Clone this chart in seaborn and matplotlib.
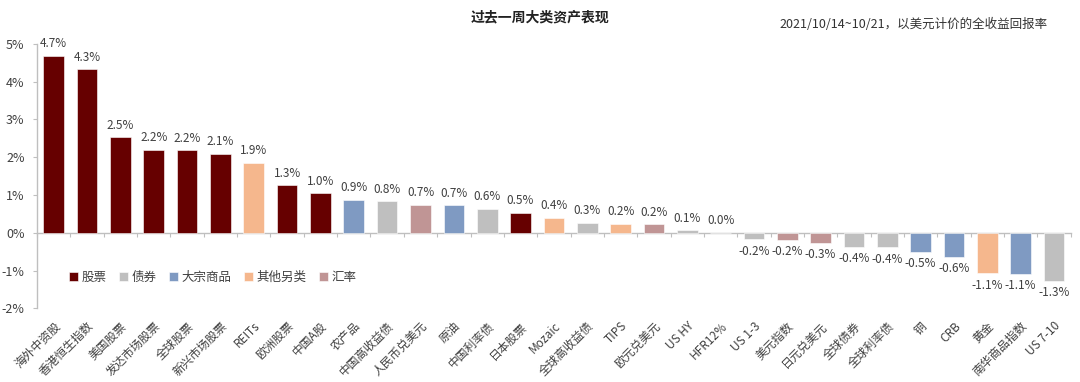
import numpy as np
import pandas as pd
import matplotlib
matplotlib.use('Agg')
import matplotlib.pyplot as plt
import seaborn as sns

# asset names, weekly return (%), asset class
assets = ['海外中资股', '香港恒生指数', '美国股票', '发达市场股票', '全球股票', '新兴市场股票',
          'REITs', '欧洲股票', '中国A股', '农产品', '中国高收益债', '人民币兑美元', '原油',
          '中国利率债', '日本股票', 'Mozaic', '全球高收益债', 'TIPS', '欧元兑美元', 'US HY',
          'HFR12%', 'US 1-3', '美元指数', '日元兑美元', '全球债券', '全球利率债', '铜', 'CRB',
          '黄金', '南华商品指数', 'US 7-10']
returns = [4.68, 4.32, 2.53, 2.20, 2.18, 2.09, 1.85, 1.26, 1.04, 0.87, 0.83, 0.74, 0.73,
           0.63, 0.52, 0.39, 0.26, 0.24, 0.22, 0.07, 0.0, -0.17, -0.19, -0.27, -0.37, -0.38,
           -0.50, -0.63, -1.07, -1.08, -1.27]
classes = ['股票', '股票', '股票', '股票', '股票', '股票', '其他另类', '股票', '股票', '大宗商品',
           '债券', '汇率', '大宗商品', '债券', '股票', '其他另类', '债券', '其他另类', '汇率', '债券',
           '其他另类', '债券', '汇率', '汇率', '债券', '债券', '大宗商品', '大宗商品', '其他另类',
           '大宗商品', '债券']
class_order = ['股票', '债券', '大宗商品', '其他另类', '汇率']
class_colors = ['#660000', '#BFBFBF', '#7F9AC2', '#F5B78D', '#C09595']

df = pd.DataFrame({'asset': assets, 'ret': returns, 'cls': classes})

sns.set_style('white')
plt.rcParams['font.family'] = ['Noto Sans CJK SC', 'DejaVu Sans']
plt.rcParams['axes.unicode_minus'] = False

fig = plt.figure(figsize=(10.8, 3.82), dpi=100)
ax = fig.add_axes([0.0343, 0.1929, 0.9571, 0.6927])

sns.barplot(data=df, x='asset', y='ret', hue='cls', hue_order=class_order,
            palette=dict(zip(class_order, class_colors)), dodge=False, width=0.62,
            saturation=1, edgecolor='white', linewidth=0.4, ax=ax)

ax.set_ylim(-2, 5)
ax.set_xlim(-0.5, len(assets) - 0.5)
ax.set_yticks(range(-2, 6))
ax.set_yticklabels([f'{v}%' for v in range(-2, 6)], fontsize=9, color='#404040')
ax.set_xlabel('')
ax.set_ylabel('')
ax.set_xticks(range(len(assets)))
ax.set_xticklabels(assets, rotation=45, ha='right', rotation_mode='anchor',
                   fontsize=8.5, color='#404040')
ax.tick_params(axis='x', length=0, pad=8)
ax.tick_params(axis='y', length=3, width=0.8, color='#BFBFBF', direction='out', pad=6, left=True)

for s in ['top', 'right', 'bottom']:
    ax.spines[s].set_visible(False)
ax.spines['left'].set_color('#BFBFBF')
ax.spines['left'].set_linewidth(1)

# zero line with category-boundary ticks
zero = ax.secondary_xaxis(2 / 7)
zero.set_xticks(np.arange(len(assets) + 1) - 0.5)
zero.set_xticklabels([])
zero.tick_params(axis='x', length=3, width=0.8, color='#BFBFBF', direction='out')
zero.spines['bottom'].set_color('#BFBFBF')
zero.spines['bottom'].set_linewidth(1)

# value labels
for i, v in enumerate(returns):
    if v >= 0:
        ax.annotate(f'{v:.1f}%', (i, v), xytext=(0, 4), textcoords='offset points',
                    ha='center', va='bottom', fontsize=8.5, color='#404040')
    else:
        ax.annotate(f'{v:.1f}%', (i, v), xytext=(0, -4), textcoords='offset points',
                    ha='center', va='top', fontsize=8.5, color='#404040')

leg = ax.legend(loc='center left', bbox_to_anchor=(0.02, 0.117), ncol=5, frameon=False,
                fontsize=9, handlelength=0.7, handleheight=0.7, handletextpad=0.3,
                columnspacing=1.0, labelcolor='#404040')

fig.text(0.5, 0.955, '过去一周大类资产表现', ha='center', va='center', fontsize=10,
         fontweight='bold', color='#222222')
fig.text(0.97, 0.935, '2021/10/14~10/21，以美元计价的全收益回报率', ha='right', va='center',
         fontsize=9, color='#333333')

fig.savefig('out.png', dpi=100)
